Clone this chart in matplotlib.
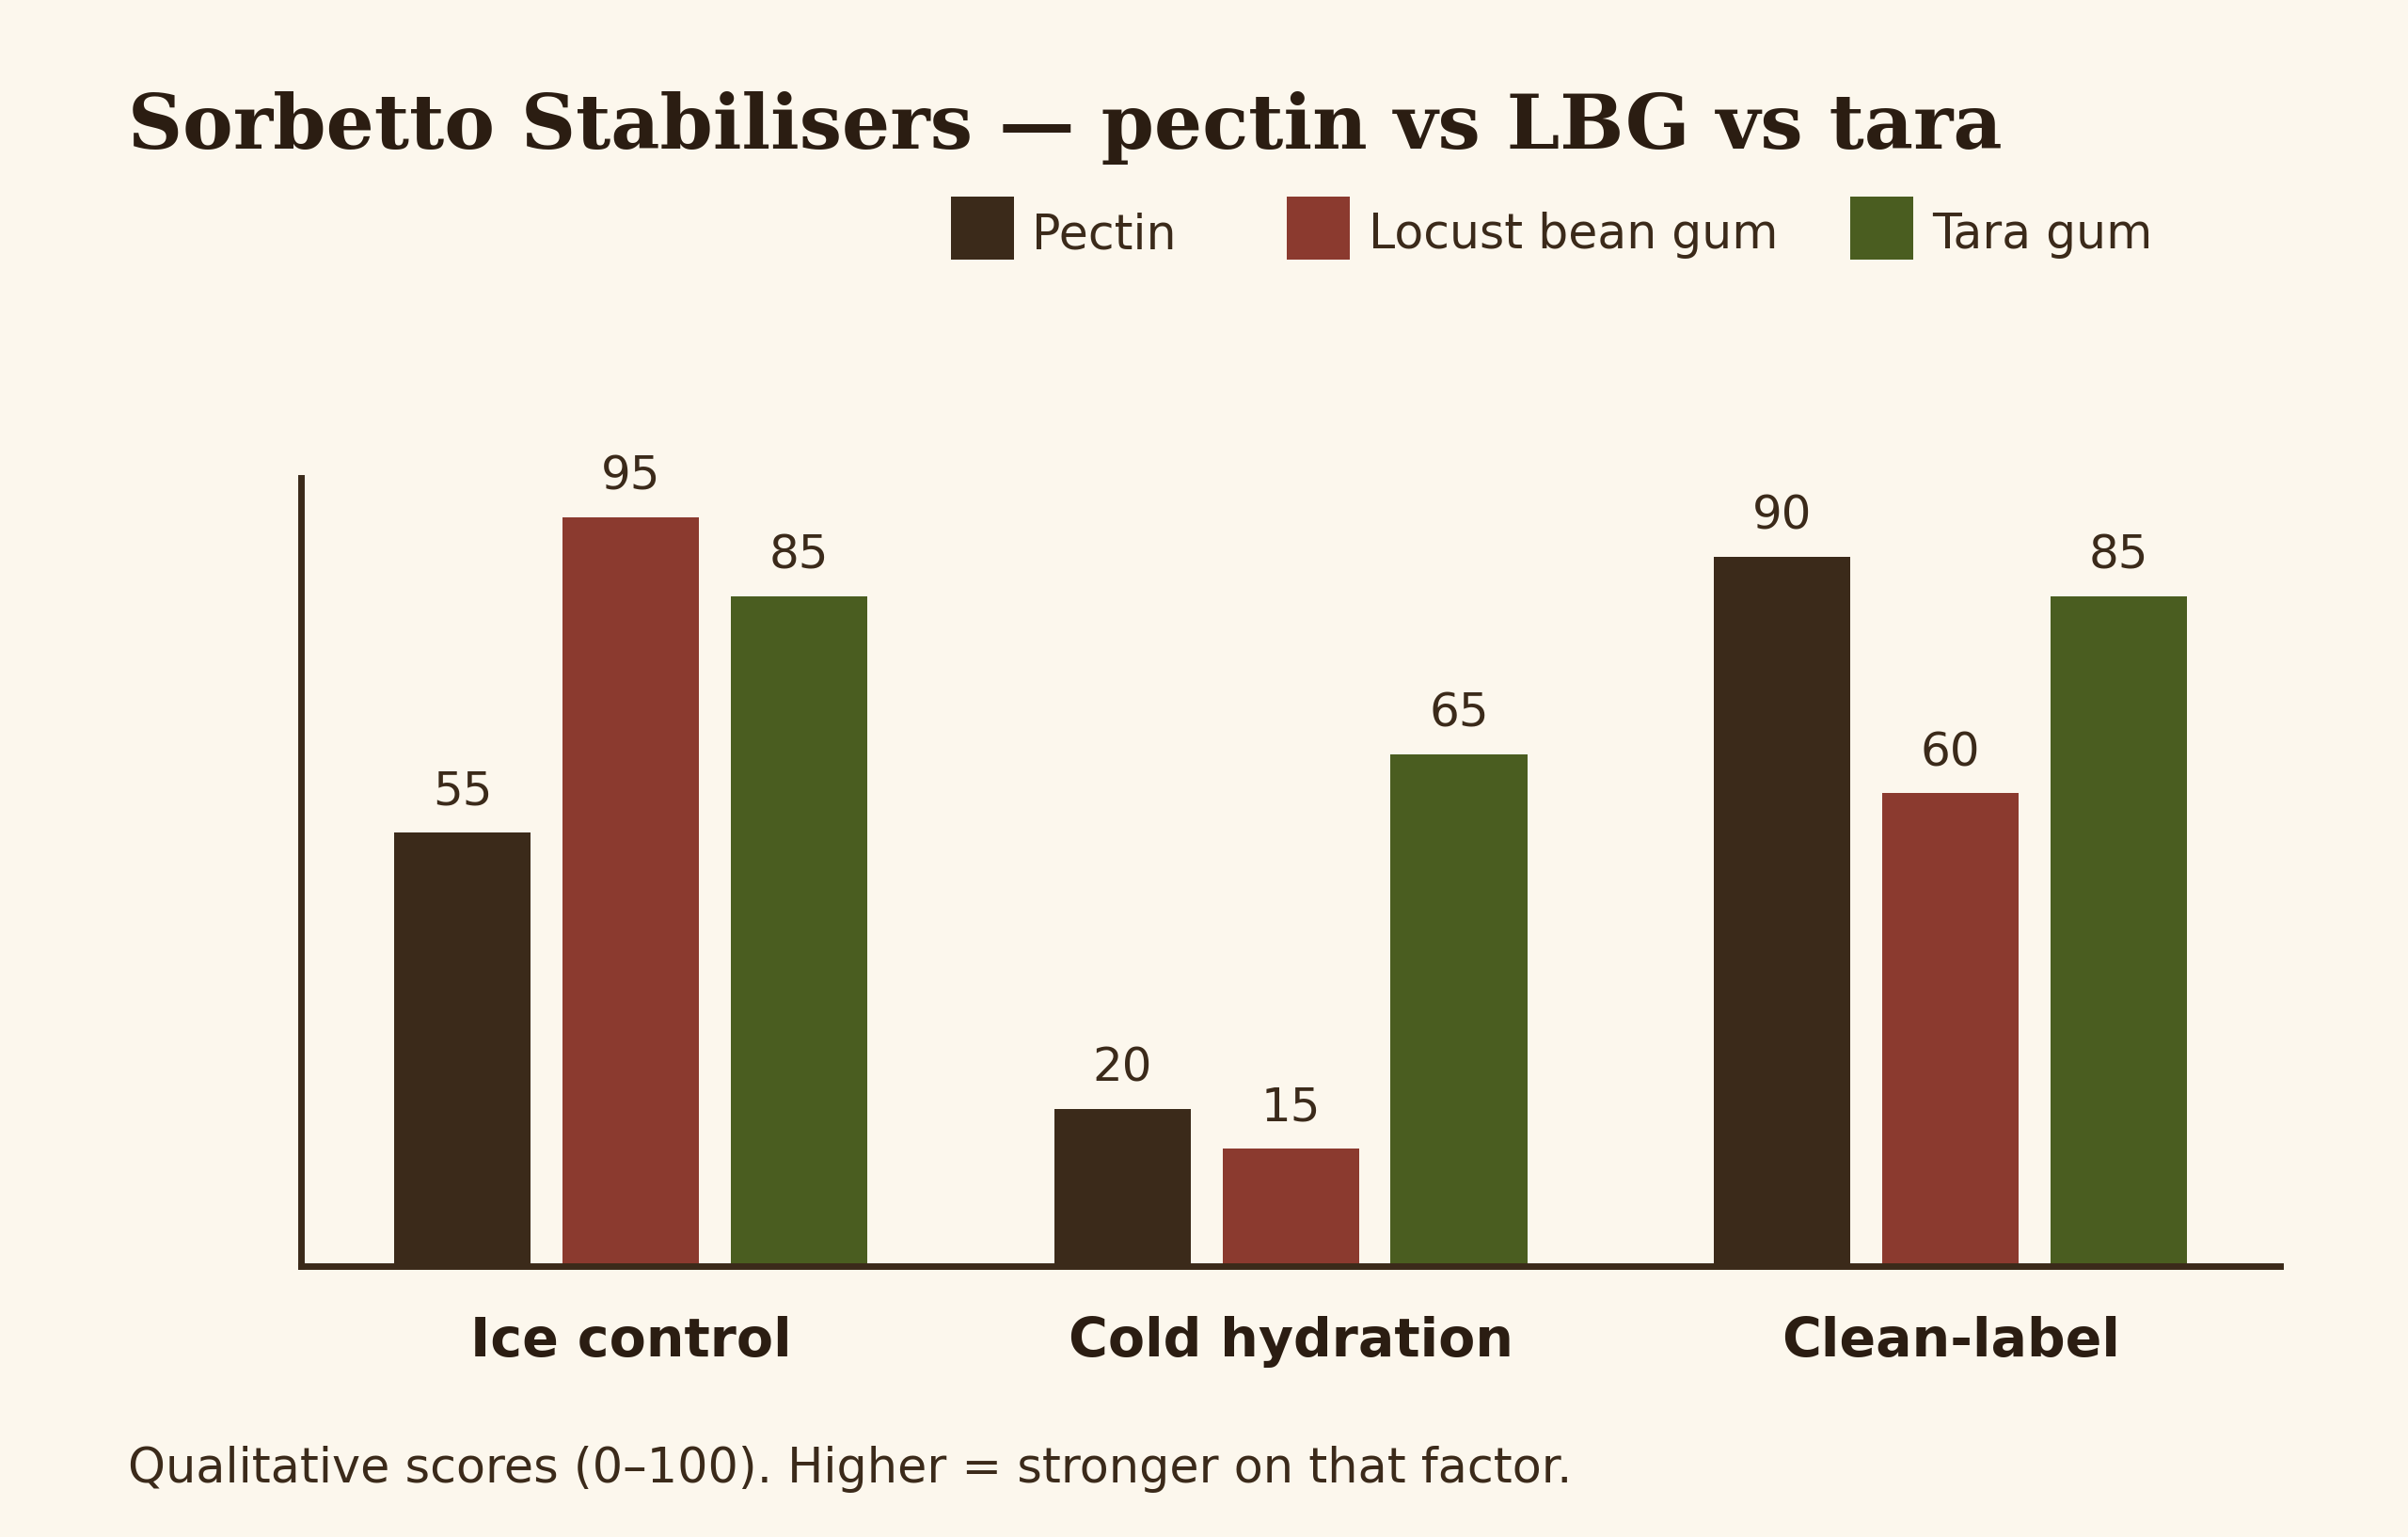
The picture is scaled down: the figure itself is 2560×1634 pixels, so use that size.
import numpy as np
import matplotlib
matplotlib.use('Agg')
import matplotlib.pyplot as plt
from matplotlib.patches import Rectangle

categories = ["Ice control", "Cold hydration", "Clean-label"]
series_names = ["Pectin", "Locust bean gum", "Tara gum"]
pectin = [55, 20, 90]
lbg = [95, 15, 60]
tara = [85, 65, 85]

colors = ["#3B2A1A", "#8B3A2F", "#4A5D20"]
bg = "#FCF7ED"
ink = "#2B1D12"
text_col = "#3B2A1A"

plt.rcParams['font.family'] = ['DejaVu Sans']

fig = plt.figure(figsize=(12.8, 8.17), dpi=200, facecolor=bg)
ax = fig.add_axes([0.125, 0.176, 0.822, 0.513])
ax.set_facecolor(bg)

x = np.arange(len(categories))
step = 0.255
width = 0.207
for i, (vals, name) in enumerate(zip([pectin, lbg, tara], series_names)):
    bars = ax.bar(x + (i - 1) * step, vals, width=width, color=colors[i], label=name, zorder=2)
    for b, v in zip(bars, vals):
        ax.annotate(str(v), (b.get_x() + b.get_width() / 2, v),
                    xytext=(0, 7), textcoords="offset points",
                    ha="center", va="bottom", fontsize=18, color=text_col)

ax.set_xlim(-0.5, 2.5)
ax.set_ylim(0, 100)
ax.set_xticks(x)
ax.set_xticklabels(categories, fontsize=20.5, fontweight="bold", color=ink)
ax.tick_params(axis="x", length=0, pad=19)
ax.set_yticks([])
for s in ["top", "right"]:
    ax.spines[s].set_visible(False)
for s in ["left", "bottom"]:
    ax.spines[s].set_color(text_col)
    ax.spines[s].set_linewidth(2.5)
    ax.spines[s].set_zorder(3)

fig.text(0.053, 0.903, "Sorbetto Stabilisers \u2014 pectin vs LBG vs tara",
         family="DejaVu Serif", fontweight="bold", fontsize=29, color=ink, va="baseline")

# legend drawn by hand to keep the uneven spacing
leg_x = [619 / 1568, 838 / 1568, 1205 / 1568]
sq_w, sq_h = 41 / 1568, 41 / 1001
for lx, c, name in zip(leg_x, colors, series_names):
    fig.add_artist(Rectangle((lx, 0.831), sq_w, sq_h, transform=fig.transFigure,
                             facecolor=c, edgecolor="none"))
    fig.text(lx + sq_w + 12 / 1568, 0.847, name, fontsize=18.2, color=text_col, va="center")

fig.text(0.053, 0.044, "Qualitative scores (0\u2013100). Higher = stronger on that factor.",
         fontsize=18.3, color=text_col, va="center")

fig.savefig("out.png", dpi=200, facecolor=bg)
